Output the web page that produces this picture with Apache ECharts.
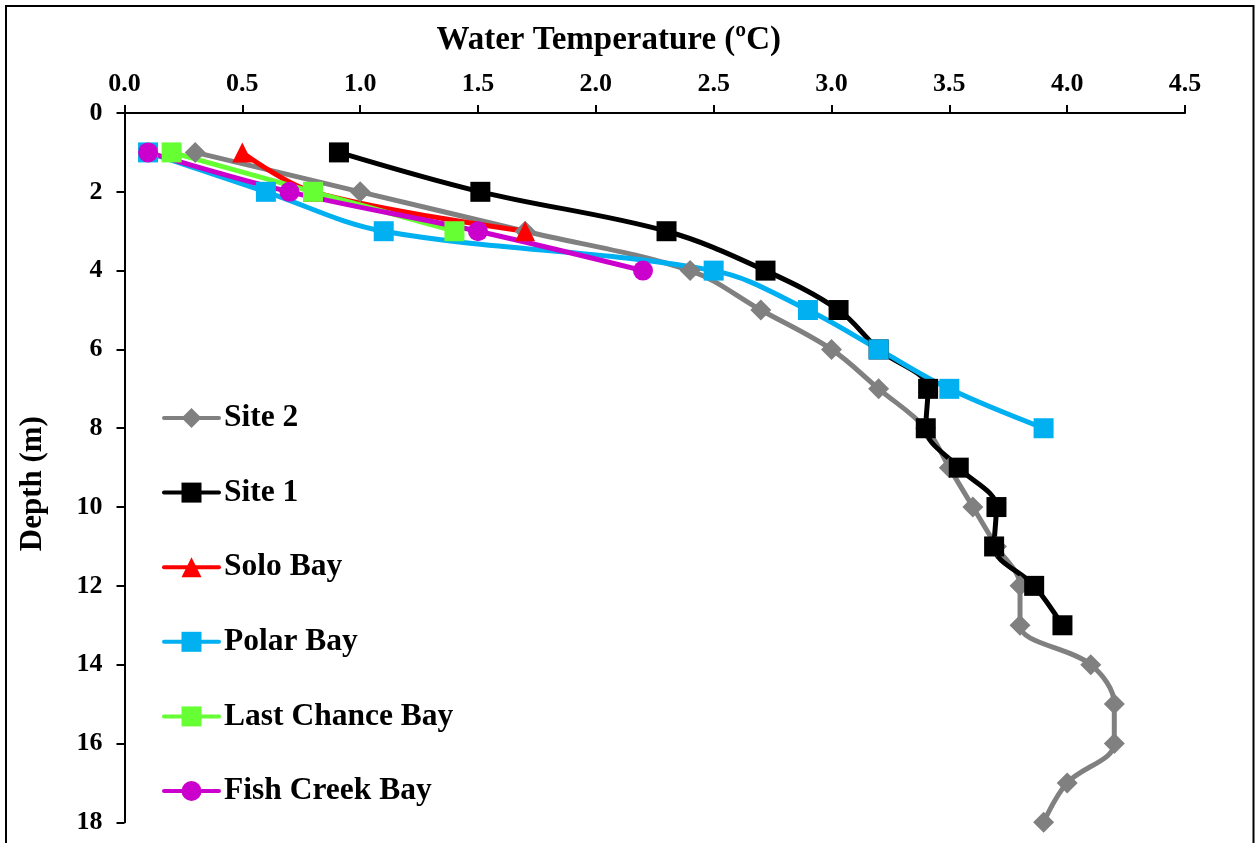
<!DOCTYPE html>
<html>
<head>
<meta charset="utf-8">
<script src="https://cdn.jsdelivr.net/npm/echarts@6/dist/echarts.min.js"></script>
<style>
  html, body { margin: 0; padding: 0; background: #fff; }
  #chart { width: 1255px; height: 843px; }
</style>
</head>
<body>
<div id="chart"></div>
<script>
// Temperature profiles: depth (m) vs water temperature (ºC)
const seriesNames = ['Site 2', 'Site 1', 'Solo Bay', 'Polar Bay', 'Last Chance Bay', 'Fish Creek Bay'];

const site2Depth = [1, 2, 3, 4, 5, 6, 7, 8, 9, 10, 11, 12, 13, 14, 15, 16, 17, 18];
const site2Temp  = [0.3, 1.0, 1.7, 2.4, 2.7, 3.0, 3.2, 3.4, 3.5, 3.6, 3.7, 3.8, 3.8, 4.1, 4.2, 4.2, 4.0, 3.9];

const site1Depth = [1, 2, 3, 4, 5, 6, 7, 8, 9, 10, 11, 12, 13];
const site1Temp  = [0.91, 1.51, 2.3, 2.72, 3.03, 3.2, 3.41, 3.4, 3.54, 3.7, 3.69, 3.86, 3.98];

const soloDepth = [1, 2, 3];
const soloTemp  = [0.5, 0.8, 1.7];

const polarDepth = [1, 2, 3, 4, 5, 6, 7, 8];
const polarTemp  = [0.1, 0.6, 1.1, 2.5, 2.9, 3.2, 3.5, 3.9];

const lastChanceDepth = [1, 2, 3];
const lastChanceTemp  = [0.2, 0.8, 1.4];

const fishCreekDepth = [1, 2, 3, 4];
const fishCreekTemp  = [0.1, 0.7, 1.5, 2.2];

const tempTicks = { min: 0, max: 4.5, interval: 0.5 };
const depthTicks = { min: 0, max: 18, interval: 2 };

const SERIF = '"Liberation Serif", "Times New Roman", serif';

function pairs(temps, depths) {
  return temps.map((t, i) => [t, depths[i]]);
}

function profile(name, temps, depths, color, symbol, size) {
  return {
    name: name,
    type: 'line',
    data: pairs(temps, depths),
    smooth: 0.35,
    symbol: symbol,
    symbolSize: size,
    lineStyle: { color: color, width: 5, cap: 'round', join: 'round' },
    itemStyle: { color: color },
    emphasis: { disabled: true }
  };
}

const chart = echarts.init(document.getElementById('chart'), null, { renderer: 'canvas' });

chart.setOption({
  animation: false,
  backgroundColor: '#ffffff',
  grid: {
    left: 124.5,
    right: 70,
    top: 113,
    bottom: 20.7,
    containLabel: false,
    outerBoundsMode: 'none'
  },
  legend: {
    data: seriesNames,
    orient: 'vertical',
    left: 162,
    top: 402,
    padding: 0,
    itemWidth: 55,
    itemHeight: 25,
    itemGap: 42.6,
    selectedMode: false,
    lineStyle: { width: 4, cap: 'round' },
    textStyle: {
      fontFamily: SERIF,
      fontWeight: 'bold',
      fontSize: 31.5,
      lineHeight: 32,
      color: '#000'
    }
  },
  xAxis: {
    type: 'value',
    position: 'top',
    min: tempTicks.min,
    max: tempTicks.max,
    interval: tempTicks.interval,
    name: 'Water Temperature (ºC)',
    nameLocation: 'middle',
    nameGap: 56,
    nameTextStyle: {
      fontFamily: SERIF,
      fontWeight: 'bold',
      fontSize: 33,
      color: '#000',
      padding: [0, 92, 0, 0]
    },
    axisLine: { show: true, lineStyle: { color: '#000', width: 2 } },
    axisTick: { show: true, length: 8, lineStyle: { color: '#000', width: 2 } },
    axisLabel: {
      margin: 16,
      fontFamily: SERIF,
      fontWeight: 'bold',
      fontSize: 26,
      color: '#000',
      formatter: v => v.toFixed(1)
    },
    splitLine: { show: false }
  },
  yAxis: {
    type: 'value',
    inverse: true,
    min: depthTicks.min,
    max: depthTicks.max,
    interval: depthTicks.interval,
    name: 'Depth (m)',
    nameLocation: 'middle',
    nameGap: 76,
    nameRotate: 90,
    nameTextStyle: {
      fontFamily: SERIF,
      fontWeight: 'bold',
      fontSize: 31,
      color: '#000',
      padding: [0, 32, 0, 0]
    },
    axisLine: { show: true, lineStyle: { color: '#000', width: 2 } },
    axisTick: { show: true, length: 8, lineStyle: { color: '#000', width: 2 } },
    axisLabel: {
      margin: 22,
      fontFamily: SERIF,
      fontWeight: 'bold',
      fontSize: 26,
      color: '#000'
    },
    splitLine: { show: false }
  },
  graphic: [{
    type: 'rect',
    silent: true,
    z: -1,
    shape: { x: 6, y: 6, width: 1247.5, height: 900 },
    style: { fill: 'none', stroke: '#000', lineWidth: 2 }
  }],
  series: [
    profile('Site 2', site2Temp, site2Depth, '#808080', 'diamond', 21),
    profile('Site 1', site1Temp, site1Depth, '#000000', 'rect', 20),
    profile('Solo Bay', soloTemp, soloDepth, '#FF0000', 'triangle', 20),
    profile('Polar Bay', polarTemp, polarDepth, '#00B0F0', 'rect', 20),
    profile('Last Chance Bay', lastChanceTemp, lastChanceDepth, '#66FF33', 'rect', 20),
    profile('Fish Creek Bay', fishCreekTemp, fishCreekDepth, '#CC00CC', 'circle', 20)
  ]
});
</script>
</body>
</html>
